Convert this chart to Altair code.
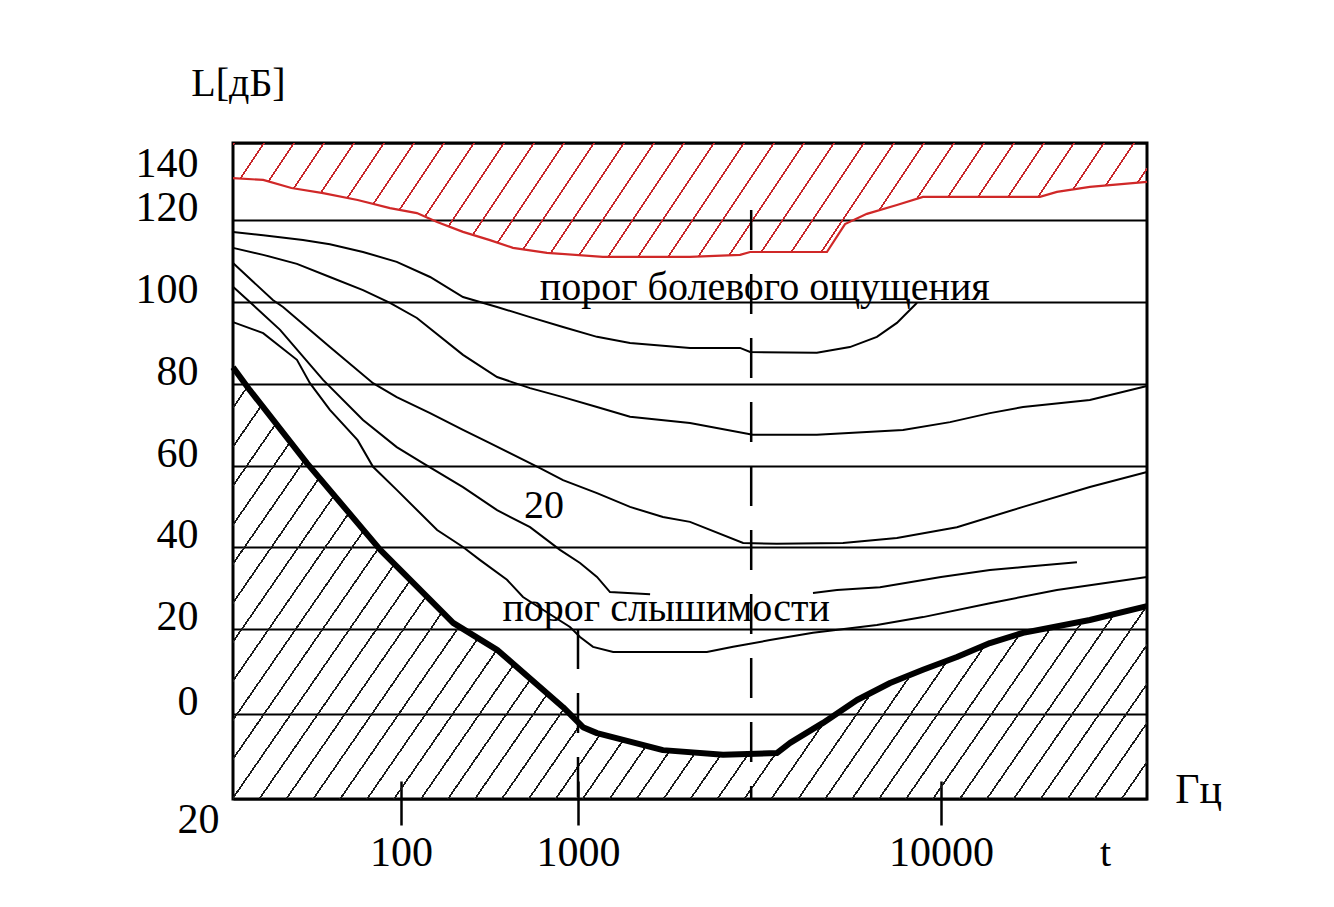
import altair as alt
import pandas as pd

# ---------------- data (frequency in Hz, level in dB) ----------------
TICK_F = [100, 1000, 10000]
L_TICKS = [-20, 0, 20, 40, 60, 80, 100, 120, 140]

# pain threshold (red)
PAIN_F = [20, 26.7, 35, 47.4, 66, 90, 123, 160, 224, 318, 429, 668, 1170, 2035, 2795,
          2980, 4850, 5440, 6250, 7560, 8920, 13950, 14770, 16500, 20000]
PAIN_L = [130.9, 130.4, 128.3, 127.0, 125.2, 123.1, 121.8, 119.5, 117.1, 115.1, 113.2,
          112.0, 111.0, 111.0, 111.5, 112.2, 112.2, 119.0, 121.6, 123.9, 126.0, 126.0,
          127.3, 128.6, 129.9]

# hearing threshold (heavy)
HEAR_F = [20, 23.5, 40.6, 82, 197, 349, 823, 1032, 1128, 1714, 2510, 3530, 3840, 4730,
          5870, 7240, 8920, 10550, 11790, 13180, 16500, 20000]
HEAR_L = [84.1, 78.5, 60.7, 39.3, 21.5, 15.1, 1.6, -3.1, -4.5, -8.5, -9.6, -9.2, -6.8,
          -2.1, 3.3, 7.3, 10.4, 13.4, 16.7, 19.1, 22.2, 25.6]

# equal-loudness curves (thin)
A_F = [20, 26.7, 39.1, 50.6, 69.5, 96, 146, 224, 349, 536, 823, 1128, 1391, 2035, 2795,
       2980, 4550, 5610, 6660, 7560, 8590]
A_L = [117.1, 116.3, 115.1, 114.1, 112.2, 109.8, 106.1, 101.2, 98.8, 96.3, 93.9, 91.5,
       90.0, 88.8, 88.8, 87.8, 87.6, 89.0, 91.5, 94.9, 99.8]

B_F = [20, 26.7, 36.9, 50.6, 69.5, 90, 123, 224, 349, 536, 823, 1128, 1391, 2035, 3030,
       4550, 7860, 10310, 11790, 13180, 16500, 20000]
B_L = [113.2, 111.5, 109.3, 106.1, 102.9, 99.8, 96.1, 87.1, 81.7, 79.0, 76.8, 74.4, 72.0,
       70.5, 67.6, 67.6, 68.8, 70.7, 72.9, 74.4, 76.1, 79.5]

C_F = [20, 29.3, 32.3, 50.6, 76.5, 96, 146, 224, 318, 610, 823, 1128, 1391, 1714, 2035,
       2850, 3530, 5370, 7560, 10550, 13180, 16500, 20000]
C_L = [109.5, 100.5, 98.8, 89.0, 80.2, 76.8, 72.9, 68.8, 65.6, 59.5, 56.5, 53.3, 49.9,
       47.4, 46.2, 41.0, 40.8, 41.0, 42.2, 44.9, 49.9, 54.8, 58.5]

D1_F = [20, 23.5, 31.4, 47.4, 69.5, 96, 133, 224, 349, 536, 791, 1013, 1128, 1225, 1580]
D1_L = [103.7, 100.0, 93.2, 81.0, 71.2, 64.6, 60.7, 54.8, 49.1, 44.9, 39.3, 36.1, 32.7,
        29.0, 28.5]

D2_F = [4440, 5170, 6790, 10000, 11790, 13180, 15800]
D2_L = [28.8, 29.5, 30.2, 32.7, 34.4, 35.1, 36.3]

E_F = [20, 26.7, 36.9, 41.8, 50.6, 66, 76.5, 96, 160, 224, 280, 397, 489, 901, 1013, 1100,
       1250, 2265, 2675, 3380, 4440, 6660, 8920, 11790, 14770, 20000]
E_L = [95.1, 92.4, 85.9, 80.2, 73.7, 66.3, 59.8, 54.1, 44.2, 40.0, 36.8, 32.0, 27.8, 20.5,
       18.1, 15.8, 14.6, 14.6, 15.8, 17.4, 19.1, 21.0, 22.9, 26.3, 29.5, 32.7]

# dashed reference verticals
REF_F = [1000, 3000]
REF_TOP = [20, 122.6]

# annotations
NOTE_TEXT = ["порог болевого ощущения", "порог слышимости", "20", "t"]
NOTE_F = [3270, 1750, 643, 17400]
NOTE_L = [100.5, 22.0, 47.2, -35.8]

# ---------------- tables ----------------
def table(fs, ls, name):
    return pd.DataFrame({"f": fs, "L": ls, "curve": name})

thin_df = pd.concat([
    table(A_F, A_L, "A"), table(B_F, B_L, "B"), table(C_F, C_L, "C"),
    table(D1_F, D1_L, "D1"), table(D2_F, D2_L, "D2"), table(E_F, E_L, "E"),
], ignore_index=True)
pain_df = table(PAIN_F, PAIN_L, "pain")
hear_df = table(HEAR_F, HEAR_L, "hear")
ref_df = pd.DataFrame({"f": REF_F, "L": REF_TOP})
note_df = pd.DataFrame({"f": NOTE_F, "L": NOTE_L, "text": NOTE_TEXT})

# ---------------- styling ----------------
FONT = "Liberation Serif"
W, H = 914, 656

# the hand-drawn axes are not evenly spaced: piecewise scales follow the drawing
xscale = alt.Scale(type="log", domain=[20, 100, 1000, 10000, 20000],
                   range=[0, 168, 345, 708, 914], nice=False)
yscale = alt.Scale(domain=L_TICKS, range=[656, 571, 486, 404, 323, 241, 159, 77, 0],
                   nice=False, zero=False)

xaxis = alt.Axis(values=TICK_F, format="d", grid=False, domain=False, offset=-18,
                 tickSize=44, tickWidth=2.5, tickColor="black",
                 labelFont=FONT, labelFontSize=42, labelColor="black", labelPadding=7,
                 labelFlush=False, labelOverlap=False,
                 title="Гц", titleFont=FONT, titleFontSize=42, titleFontWeight="normal",
                 titleColor="black", titleX=965, titleY=8, titleAlign="center",
                 titleBaseline="middle", titleAngle=0)
yaxis = alt.Axis(values=L_TICKS, labelExpr="'' + abs(datum.value)", grid=True,
                 gridColor="black", gridWidth=2.2, gridOpacity=1, domain=False,
                 ticks=False, labelPadding=35, labelFont=FONT, labelFontSize=42,
                 labelColor="black", labelFlush=False, labelOverlap=False,
                 labelBaseline={"condition": {"test": "datum.value == 140 || datum.value == -20",
                                              "value": "top"}, "value": "alphabetic"},
                 labelAlign={"condition": {"test": "datum.value == -20", "value": "center"},
                             "value": "right"},
                 title="L[дБ]", titleFont=FONT, titleFontSize=40, titleFontWeight="normal",
                 titleColor="black", titleAngle=0, titleX=5, titleY=-60,
                 titleAlign="center", titleBaseline="middle")

X = alt.X("f:Q", scale=xscale, axis=xaxis)
Y = alt.Y("L:Q", scale=yscale, axis=yaxis)


def stripes(x2, y2, n, frac, color):
    clear = "rgba(255,255,255,0)"
    stops = []
    for i in range(n):
        a = i / n
        b = a + frac / n
        stops += [{"offset": a, "color": clear}, {"offset": a, "color": color},
                  {"offset": b, "color": color}, {"offset": b, "color": clear}]
    stops.append({"offset": 1, "color": clear})
    return {"gradient": "linear", "x1": 0, "y1": 0, "x2": x2, "y2": y2, "stops": stops}


red_hatch = alt.Chart(pain_df).mark_area(
    fill=stripes(1.0757, 0.0894, 33, 0.07, "#c8262a")
).encode(x=X, y=Y, y2=alt.datum(140))

black_hatch = alt.Chart(hear_df).mark_area(
    fill=stripes(1.199, 0.391, 45, 0.075, "#1a1a1a")
).encode(x=X, y=Y, y2=alt.datum(-20))

thin = alt.Chart(thin_df).mark_line(color="black", strokeWidth=2).encode(
    x=X, y=Y, detail="curve:N")

pain_line = alt.Chart(pain_df).mark_line(color="#d02828", strokeWidth=2.2).encode(x=X, y=Y)

hear_line = alt.Chart(hear_df).mark_line(color="black", strokeWidth=6,
                                         strokeJoin="round").encode(x=X, y=Y)

refs = alt.Chart(ref_df).mark_rule(color="black", strokeWidth=2.5,
                                   strokeDash=[40, 24]).encode(x=X, y=Y, y2=alt.datum(-20))

notes = alt.Chart(note_df).mark_text(font=FONT, fontSize=40, color="black",
                                     align="center", baseline="alphabetic").encode(
    x=X, y=Y, text="text:N")

chart = alt.layer(red_hatch, black_hatch, thin, pain_line, hear_line, refs, notes).properties(
    width=W, height=H,
    autosize=alt.AutoSizeParams(type="none"),
    padding={"left": 225, "top": 135, "right": 150, "bottom": 90},
    background="white",
).configure_view(stroke="black", strokeWidth=3)

chart.save("out.html", embed_options={"renderer": "svg", "actions": False})
